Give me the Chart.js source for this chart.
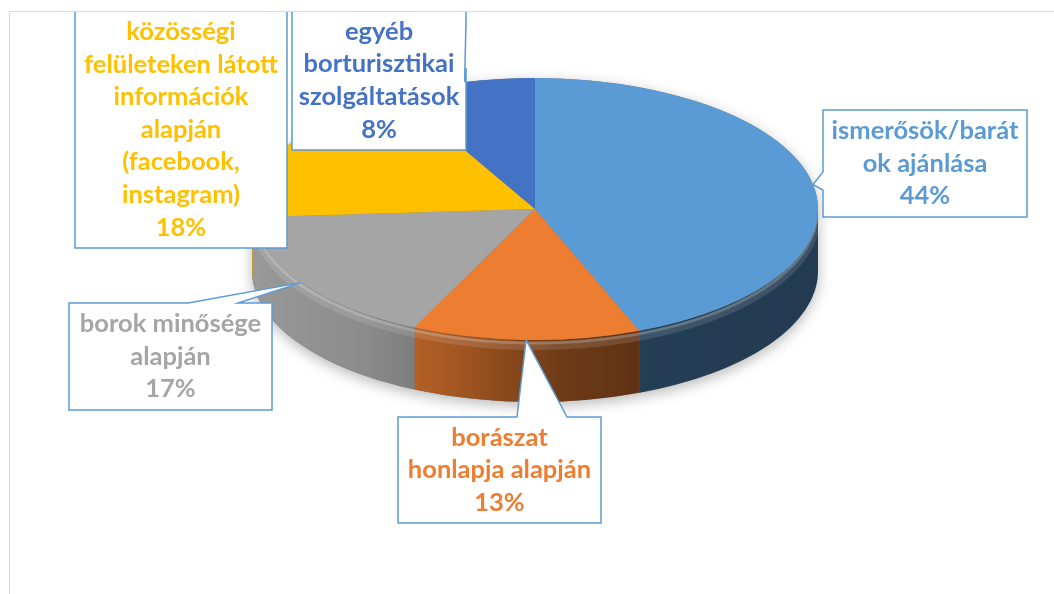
<!DOCTYPE html>
<html>
<head>
<meta charset="utf-8">
<script src="https://cdn.jsdelivr.net/npm/chart.js@4.4.0/dist/chart.umd.min.js"></script>
<style>
  html, body { margin: 0; padding: 0; background: #fff; }
  #wrap { width: 1054px; height: 594px; }
</style>
</head>
<body>
<div id="wrap"><canvas id="grafico" width="1054" height="594"></canvas></div>
<script>
// categories (label lines as shown in the callouts) and share in %
const categories = [
  ['ismerősök/barát', 'ok ajánlása'],
  ['borászat', 'honlapja alapján'],
  ['borok minősége', 'alapján'],
  ['közösségi', 'felületeken látott', 'információk', 'alapján', '(facebook,', 'instagram)'],
  ['egyéb', 'borturisztikai', 'szolgáltatások']
];
const values = [44, 13, 17, 18, 8];
const colors = ['#5B9BD5', '#ED7D31', '#A5A5A5', '#FFC000', '#4472C4'];

// pie geometry on the page (center, radii, thickness of the 3D side)
const CX = 535, CY = 209, RX = 283, RY = 131, DEPTH = 62;
const K = RY / RX;

// callout boxes: position + where the pointer leaves the box
const boxes = [
  { x: 823, y: 110, w: 204, h: 107, side: 'left', from: 172, to: 190 },
  { x: 398, y: 417, w: 203, h: 106, side: 'top', from: 517, to: 567 },
  { x: 69, y: 303, w: 203, h: 107, side: 'top', from: 188, to: 238 },
  { x: 75, y: 11, w: 212, h: 237, side: 'right', from: 128, to: 150 },
  { x: 292, y: 11, w: 174, h: 139, side: 'right', from: 20, to: 68 }
];
const FONT_SIZE = 25.5;
const LINE_H = 32.6;

function hexToRgb(hex) {
  const n = parseInt(hex.slice(1), 16);
  return [(n >> 16) & 255, (n >> 8) & 255, n & 255];
}
function shade(hex, f) {
  const [r, g, b] = hexToRgb(hex);
  return `rgb(${Math.round(r * f)}, ${Math.round(g * f)}, ${Math.round(b * f)})`;
}

// darkening of the side wall from left to right
const sideLight = [[0, 0.93], [0.2, 0.84], [0.35, 0.7], [0.55, 0.46], [0.7, 0.4], [1, 0.38]];

const pie3d = {
  id: 'pie3d',
  beforeDatasetsDraw(chart) {
    const c = chart.ctx;
    const arcs = chart.getDatasetMeta(0).data;
    const a0 = arcs[0];
    const cx = a0.x, cy = a0.y, rx = a0.outerRadius, ry = rx * K;

    // soft shadow under the pie
    c.save();
    c.shadowColor = 'rgba(0,0,0,0.28)';
    c.shadowBlur = 14;
    c.shadowOffsetY = 4;
    c.beginPath();
    c.ellipse(cx, cy, rx, ry, 0, Math.PI, 2 * Math.PI);
    c.ellipse(cx, cy + DEPTH, rx, ry, 0, 0, Math.PI);
    c.closePath();
    c.fillStyle = '#777';
    c.fill();
    c.restore();

    // front side walls
    arcs.forEach((arc, i) => {
      const a1 = Math.max(arc.startAngle, 0);
      const a2 = Math.min(arc.endAngle, Math.PI);
      if (a2 <= a1) return;
      const g = c.createLinearGradient(cx - rx, 0, cx + rx, 0);
      sideLight.forEach(([t, f]) => g.addColorStop(t, shade(colors[i], f)));
      c.beginPath();
      c.ellipse(cx, cy, rx, ry, 0, a1, a2);
      c.ellipse(cx, cy + DEPTH, rx, ry, 0, a2, a1, true);
      c.closePath();
      c.fillStyle = g;
      c.fill();
    });

    // soft light bevel along the top of the side
    c.save();
    c.beginPath();
    c.ellipse(cx, cy + 6, rx - 1, ry, 0, 0.03, Math.PI - 0.03);
    c.strokeStyle = 'rgba(255,255,255,0.12)';
    c.lineWidth = 8;
    c.stroke();
    c.beginPath();
    c.ellipse(cx, cy + 3, rx - 1, ry, 0, 0.03, Math.PI - 0.03);
    c.strokeStyle = 'rgba(255,255,255,0.2)';
    c.lineWidth = 3;
    c.stroke();
    c.restore();

    // squash the pie so the top face becomes an ellipse
    c.save();
    c.translate(0, cy);
    c.scale(1, K);
    c.translate(0, -cy);
  },
  afterDatasetsDraw(chart) {
    chart.ctx.restore();
  }
};

const callouts = {
  id: 'callouts',
  afterDraw(chart) {
    const c = chart.ctx;
    const arcs = chart.getDatasetMeta(0).data;
    c.save();
    c.beginPath();
    c.rect(10, 11, 1044, 583);
    c.clip();
    arcs.forEach((arc, i) => {
      const b = boxes[i];
      const mid = (arc.startAngle + arc.endAngle) / 2;
      const tip = {
        x: arc.x + arc.outerRadius * Math.cos(mid),
        y: arc.y + arc.outerRadius * K * Math.sin(mid)
      };
      const { x, y, w, h, side, from, to } = b;
      c.beginPath();
      c.moveTo(x, y);
      if (side === 'top') { c.lineTo(from, y); c.lineTo(tip.x, tip.y); c.lineTo(to, y); }
      c.lineTo(x + w, y);
      if (side === 'right') { c.lineTo(x + w, from); c.lineTo(tip.x, tip.y); c.lineTo(x + w, to); }
      c.lineTo(x + w, y + h);
      c.lineTo(x, y + h);
      if (side === 'left') { c.lineTo(x, to); c.lineTo(tip.x, tip.y); c.lineTo(x, from); }
      c.closePath();
      c.fillStyle = '#fff';
      c.fill();
      c.strokeStyle = '#5B9BD5';
      c.lineWidth = 1.5;
      c.stroke();

      const lines = [...categories[i], values[i] + '%'];
      const y0 = y + h / 2 - (lines.length - 1) * LINE_H / 2;
      c.font = `bold ${FONT_SIZE}px Lato`;
      c.textAlign = 'center';
      c.textBaseline = 'middle';
      c.fillStyle = colors[i];
      lines.forEach((t, j) => c.fillText(t, x + w / 2, y0 + j * LINE_H));
    });
    c.restore();

    // chart frame
    c.save();
    c.strokeStyle = '#D9D9D9';
    c.lineWidth = 1;
    c.beginPath();
    c.moveTo(9.5, 594);
    c.lineTo(9.5, 11.5);
    c.lineTo(1054, 11.5);
    c.stroke();
    c.restore();
  }
};

document.addEventListener('DOMContentLoaded', () => {
  const ctx = document.getElementById('grafico').getContext('2d');
  new Chart(ctx, {
    type: 'pie',
    data: {
      labels: categories,
      datasets: [{
        data: values,
        backgroundColor: colors,
        borderWidth: 0,
        radius: RX,
        clip: false
      }]
    },
    options: {
      responsive: false,
      animation: false,
      events: [],
      layout: { padding: { left: 2 * CX - 1054, right: 0, top: 0, bottom: 594 - 2 * CY } },
      plugins: { legend: { display: false }, tooltip: { enabled: false } }
    },
    plugins: [pie3d, callouts]
  });
});
</script>
</body>
</html>
